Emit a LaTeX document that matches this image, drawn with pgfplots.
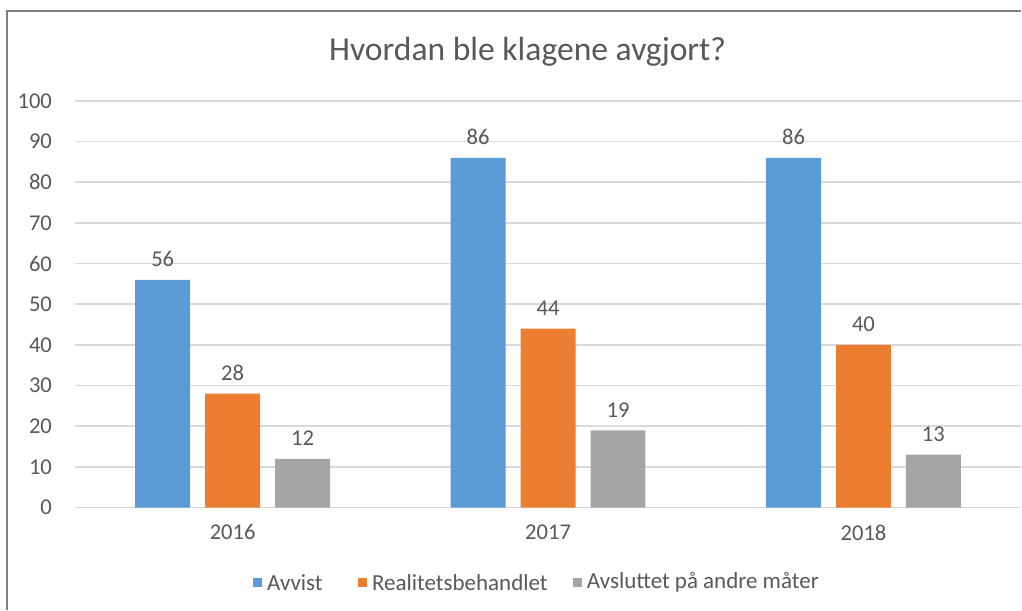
\documentclass[border=0pt]{standalone}
\usepackage{pgfplots}
\pgfplotsset{compat=1.18}
\usepackage{fontspec}
\setmainfont{Carlito}
\definecolor{txt}{HTML}{595959}
\definecolor{gridc}{HTML}{D9D9D9}
\definecolor{cblue}{HTML}{5B9BD5}
\definecolor{corange}{HTML}{ED7D31}
\definecolor{cgray}{HTML}{A5A5A5}
\definecolor{frame}{HTML}{7F7F7F}
\begin{document}
\begin{tikzpicture}
\fill[white] (-37.5pt,-51pt) rectangle (473.5pt,254pt);
\draw[frame,line width=0.8pt] (-34pt,-51pt) -- (-34pt,248.5pt) -- (473.5pt,248.5pt);
\begin{axis}[
  at={(0pt,0pt)}, anchor=south west,
  scale only axis, width=473.5pt, height=203.5pt,
  xmin=-0.5, xmax=2.5, ymin=0, ymax=100,
  xtick={0,1,2}, xticklabels={2016,2017,2018},
  ytick={0,10,...,100},
  ymajorgrids, major grid style={gridc, line width=0.8pt},
  axis line style={draw=none},
  major tick length=0pt,
  tick label style={font=\fontsize{11.3}{13}\selectfont, text=txt},
  /pgf/number format/assume math mode=true,
  yticklabel style={xshift=-8pt},
  xticklabel style={yshift=-5pt},
  ybar, bar width=27.5pt,
  nodes near coords,
  every node near coord/.append style={font=\fontsize{11.3}{13}\selectfont, text=txt, yshift=3pt},
  clip=false,
]
\addplot[fill=cblue, draw=none, bar shift=-35pt] coordinates {(0,56) (1,86) (2,86)};
\addplot[fill=corange, draw=none, bar shift=0pt] coordinates {(0,28) (1,44) (2,40)};
\addplot[fill=cgray, draw=none, bar shift=35pt] coordinates {(0,12) (1,19) (2,13)};
\end{axis}
\node[text=txt, font=\fontsize{16.8}{19}\selectfont] at (226.5pt,228pt) {Hvordan ble klagene avgjort?};
\begin{scope}[every node/.style={font=\fontsize{11.5}{13}\selectfont, text=txt, anchor=west, inner sep=0pt}]
\fill[cblue] (-37.5pt+253*0.5pt,-39.75pt) rectangle ++(4.5pt,4.5pt);
\node at (-37.5pt+267*0.5pt,-37.5pt) {Avvist};
\fill[corange] (-37.5pt+358*0.5pt,-39.75pt) rectangle ++(4.5pt,4.5pt);
\node at (-37.5pt+372*0.5pt,-37.5pt) {Realitetsbehandlet};
\fill[cgray] (-37.5pt+573*0.5pt,-39.75pt) rectangle ++(4.5pt,4.5pt);
\node at (-37.5pt+587*0.5pt,-37.5pt) {Avsluttet på andre måter};
\end{scope}
\end{tikzpicture}
\end{document}
